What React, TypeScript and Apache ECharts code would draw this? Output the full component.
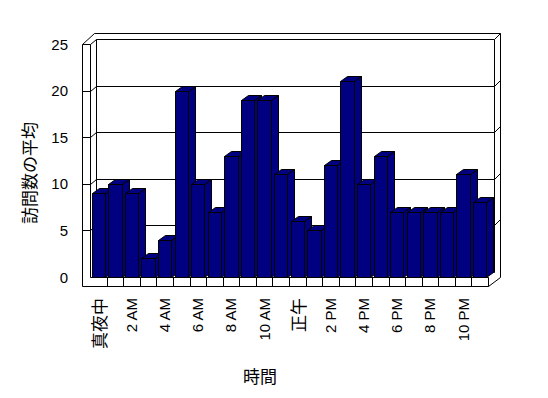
import React, { useEffect, useRef } from "react";
import * as echarts from "echarts";

const hourLabels = [
  "真夜中", "1 AM", "2 AM", "3 AM", "4 AM", "5 AM", "6 AM", "7 AM", "8 AM", "9 AM", "10 AM", "11 AM",
  "正午", "1 PM", "2 PM", "3 PM", "4 PM", "5 PM", "6 PM", "7 PM", "8 PM", "9 PM", "10 PM", "11 PM",
];
const avgVisits = [9, 10, 9, 2, 4, 20, 10, 7, 13, 19, 19, 11, 6, 5, 12, 21, 10, 13, 7, 7, 7, 7, 11, 8];
const gridValues = [5, 10, 15, 20];
const yAxisTitle = "訪問数の平均";
const xAxisTitle = "時間";

const LATIN = "'Liberation Sans', Arial, 'Noto Sans CJK JP', sans-serif";
const CJK = "'Noto Sans CJK JP', sans-serif";

const p = (n: number) => Math.round(n) + 0.5;

export default function App() {
  const ref = useRef<HTMLDivElement>(null);
  useEffect(() => {
    if (!ref.current) return;
    const chart = echarts.init(ref.current, null, { renderer: "svg" });
    const lineStyle = { stroke: "#000", lineWidth: 1, fill: "none" };
    const option: any = {
      animation: false,
      backgroundColor: "#fff",
      grid: { left: 90, top: 44, width: 398, height: 233 },
      xAxis: {
        type: "category",
        data: hourLabels,
        axisLine: { show: false },
        axisTick: { show: false },
        splitLine: { show: false },
        axisLabel: {
          interval: 1,
          rotate: 90,
          margin: 21,
          color: "#000",
          fontSize: 15,
          fontFamily: LATIN,
          formatter: (v: string) => (/[^\x00-\x7f]/.test(v) ? `{j|${v}}` : `{l|${v}}`),
          rich: {
            j: { fontFamily: CJK, fontSize: 17, color: "#000" },
            l: { fontFamily: LATIN, fontSize: 15, color: "#000" },
          },
        },
      },
      yAxis: {
        type: "value",
        min: 0,
        max: 25,
        interval: 5,
        axisLine: { show: false },
        axisTick: { show: false },
        splitLine: { show: false },
        axisLabel: { margin: 22, color: "#000", fontSize: 15, fontFamily: LATIN },
      },
      graphic: [
        {
          type: "text",
          x: 28,
          y: 173,
          rotation: Math.PI / 2,
          style: { text: yAxisTitle, fontFamily: CJK, fontSize: 17, fill: "#000", align: "center", verticalAlign: "middle" },
        },
        {
          type: "text",
          x: 260,
          y: 375,
          style: { text: xAxisTitle, fontFamily: CJK, fontSize: 17, fill: "#000", align: "center", verticalAlign: "middle" },
        },
      ],
      series: [
        {
          type: "custom",
          silent: true,
          z: 1,
          data: [[0, 0]],
          encode: { x: 0, y: 1 },
          renderItem: (params: any, api: any) => {
            const bw = api.size([1, 0])[0];
            const x0 = api.coord([0, 0])[0] - bw / 2;
            const x1 = api.coord([hourLabels.length - 1, 0])[0] + bw / 2;
            const yb = api.coord([0, 0])[1];
            const yt = api.coord([0, 25])[1];
            const L = x0 - 8;
            const children: any[] = [];
            const pl = (pts: number[][]) =>
              children.push({ type: "polyline", shape: { points: pts.map((q) => [p(q[0]), p(q[1])]) }, style: lineStyle });
            children.push({
              type: "polygon",
              shape: { points: [[p(x0 + 6), p(yt - 5)], [p(x1 + 6), p(yt - 5)], [p(x1 + 6), p(yb - 5)], [p(x0 + 6), p(yb - 5)]] },
              style: { fill: "#fff", stroke: "#000", lineWidth: 1 },
            });
            pl([[L, yt], [L + 12, yt - 11], [x1 + 12, yt - 11], [x1 + 12, yb], [x1, yb + 9]]);
            pl([[x1 + 6, yt - 5], [x1 + 12, yt - 11]]);
            pl([[L, yt], [L, yb + 9], [x1, yb + 9]]);
            pl([[L, yt], [x0, yt], [x0 + 6, yt - 5]]);
            pl([[x0, yt], [x0, yb]]);
            pl([[x0, yb], [x1, yb], [x1, yb + 9]]);
            for (let i = 1; i < hourLabels.length; i++) {
              const xi = api.coord([i, 0])[0] - bw / 2;
              pl([[xi, yb], [xi, yb + 9]]);
            }
            gridValues.forEach((v) => {
              const y = api.coord([0, v])[1];
              pl([[L, y], [x0, y], [x0 + 6, y - 5], [x1 + 6, y - 5], [x1 + 12, y - 11]]);
            });
            return { type: "group", children };
          },
        },
        {
          type: "custom",
          z: 2,
          data: avgVisits.map((v, i) => [i, v]),
          encode: { x: 0, y: 1 },
          renderItem: (params: any, api: any) => {
            const i = api.value(0);
            const v = api.value(1);
            const top = api.coord([i, v]);
            const base = api.coord([i, 0]);
            const bw = api.size([1, 0])[0] * 0.8;
            const xl = p(top[0] - bw / 2);
            const xr = p(top[0] + bw / 2);
            const yt = p(top[1]);
            const yb = p(base[1]);
            const dx = 7;
            const dy = -5;
            const style = { fill: "#000080", stroke: "#000", lineWidth: 1 };
            return {
              type: "group",
              children: [
                { type: "polygon", shape: { points: [[xr, yb], [xr, yt], [xr + dx, yt + dy], [xr + dx, yb + dy]] }, style },
                { type: "polygon", shape: { points: [[xl, yt], [xr, yt], [xr + dx, yt + dy], [xl + dx, yt + dy]] }, style },
                { type: "rect", shape: { x: xl, y: yt, width: xr - xl, height: yb - yt }, style },
              ],
            };
          },
        },
      ],
    };
    chart.setOption(option);
    return () => chart.dispose();
  }, []);
  return <div ref={ref} style={{ position: "absolute", left: 0, top: 0, width: 548, height: 398 }} />;
}
